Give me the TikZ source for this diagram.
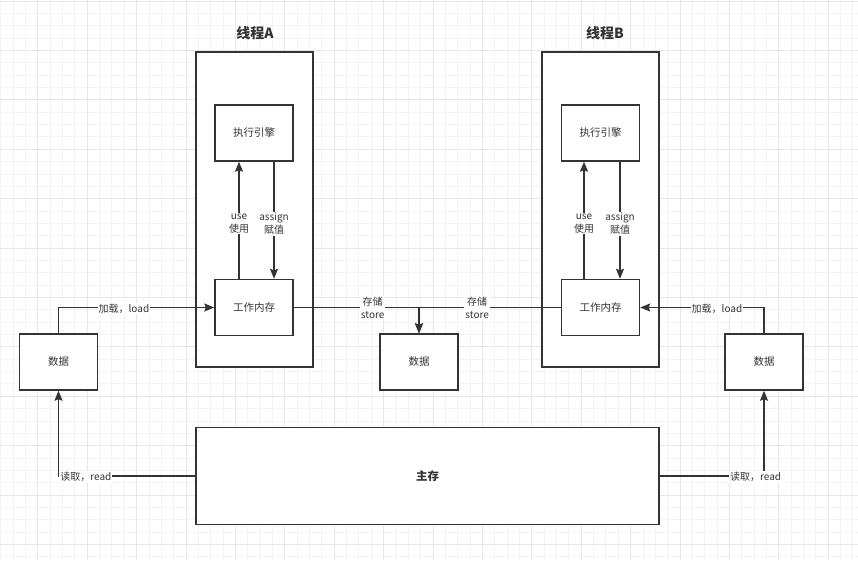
\documentclass[tikz,border=0pt]{standalone}
\usepackage{fontspec}
\setmainfont{Noto Sans CJK SC}
\usetikzlibrary{arrows.meta}
\definecolor{ink}{HTML}{333333}
\definecolor{gridminor}{HTML}{F3F3F3}
\definecolor{gridmajor}{HTML}{E6E6E6}
\tikzset{
  box/.style={draw=ink, line width=1.4pt, fill=white, minimum width=78pt, minimum height=56pt, inner sep=0pt, font=\fontsize{10.5}{12}\selectfont, text=ink},
  arr/.style={draw=ink, line width=1.4pt, -{Stealth[length=10pt,width=8pt,inset=1.5pt]}},
  lbl/.style={fill=white, inner sep=1pt, align=center, text=ink, font=\fontsize{10}{13}\selectfont},
  ttl/.style={font=\bfseries\fontsize{14}{16}\selectfont, text=ink}
}
\begin{document}
\begin{tikzpicture}[x=1pt,y=-1pt]
\useasboundingbox (0,0) rectangle (858,560);
\fill[white] (0,0) rectangle (858,560);
% grid
\foreach \i in {0,...,70} {
  \draw[gridminor, line width=0.8pt] ({0.7+12.35*\i},0) -- ({0.7+12.35*\i},560);
}
\foreach \i in {0,...,46} {
  \draw[gridminor, line width=0.8pt] (0,{1.0+12.35*\i}) -- (858,{1.0+12.35*\i});
}
\foreach \i in {0,...,17} {
  \draw[gridmajor, line width=0.8pt] ({37.7+49.4*\i},0) -- ({37.7+49.4*\i},560);
}
\foreach \i in {-1,...,11} {
  \draw[gridmajor, line width=0.8pt] (0,{50.3+49.4*\i}) -- (858,{50.3+49.4*\i});
}
% thread containers
\node[box, minimum width=117pt, minimum height=315pt] (tA) at (254.5,209.5) {};
\node[box, minimum width=117pt, minimum height=315pt] (tB) at (600.5,209.5) {};
\node[ttl] (tAt) at (255,33) {线程A};
\node[ttl] (tBt) at (605,33) {线程B};
% inner boxes
\node[box] (eA) at (254,133) {执行引擎};
\node[box] (wA) at (254,307.5) {工作内存};
\node[box] (eB) at (600.5,133) {执行引擎};
\node[box] (wB) at (600.5,307.5) {工作内存};
% data boxes
\node[box] (dL) at (58.5,362) {数据};
\node[box] (dM) at (419,362) {数据};
\node[box] (dR) at (764,362) {数据};
% main memory
\node[box, minimum width=463pt, minimum height=97pt] (main) at (427.5,476) {\fontsize{11.5}{13}\selectfont\bfseries 主存};
% use / assign
\draw[arr] ([xshift=-15pt]wA.north) -- node[lbl, pos=0.47]{use\\使用} ([xshift=-15pt]eA.south);
\draw[arr] ([xshift=20pt]eA.south) -- node[lbl, pos=0.53]{assign\\赋值} ([xshift=20pt]wA.north);
\draw[arr] ([xshift=-16.5pt]wB.north) -- node[lbl, pos=0.47]{use\\使用} ([xshift=-16.5pt]eB.south);
\draw[arr] ([xshift=19.5pt]eB.south) -- node[lbl, pos=0.53]{assign\\赋值} ([xshift=19.5pt]wB.north);
% load
\draw[arr] (dL.north) |- node[lbl, pos=0.71, yshift=-1pt]{加载，load} (wA.west);
\draw[arr] (dR.north) |- node[lbl, pos=0.69, yshift=-1pt]{加载，load} (wB.east);
% store
\coordinate (j) at (419,307.5);
\draw[arr] (wA.east) -- node[lbl, pos=0.63]{存储\\store} (j) -- (dM.north);
\draw[arr] (wB.west) -- node[lbl, pos=0.59]{存储\\store} (j) -- (dM.north);
% read
\draw[arr] (main.west) -| node[lbl, pos=0.40, yshift=-1pt]{读取，read} (dL.south);
\draw[arr] (main.east) -| node[lbl, pos=0.46, yshift=-1pt]{读取，read} (dR.south);
\end{tikzpicture}
\end{document}
